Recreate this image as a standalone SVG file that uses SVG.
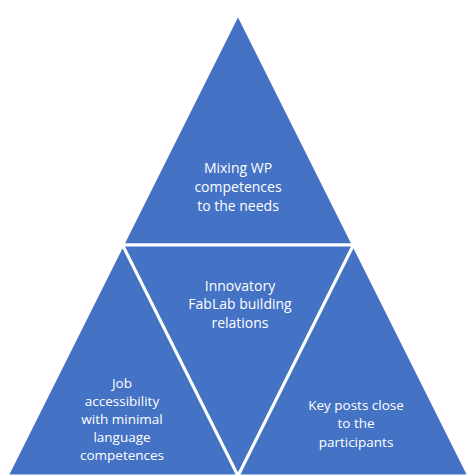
<svg xmlns="http://www.w3.org/2000/svg" width="468" height="476" viewBox="0 0 468 476">
<style>
.tri{fill:#4472C4;stroke:#FFFFFF;stroke-width:3;stroke-linejoin:miter}
.lbl{font-family:"Open Sans","Noto Sans",sans-serif;font-size:14px;fill:#FFFFFF;text-anchor:middle;dominant-baseline:central}
.sm{font-size:13.5px}
</style>
<rect width="468" height="476" fill="#FFFFFF"/>
<g id="top">
<polygon class="tri" points="238,14 122.5,245 353.5,245"/>
<text class="lbl" x="238" y="167">Mixing WP</text>
<text class="lbl" x="238" y="186">competences</text>
<text class="lbl" x="238" y="205">to the needs</text>
</g>
<g id="center">
<polygon class="tri" points="122.5,245 353.5,245 238,476"/>
<text class="lbl" x="240" y="285">Innovatory</text>
<text class="lbl" x="240" y="303.5">FabLab building</text>
<text class="lbl" x="240" y="322">relations</text>
</g>
<g id="left">
<polygon class="tri" points="122.5,245 7,476 238,476"/>
<text class="lbl sm" x="122" y="383">Job</text>
<text class="lbl sm" x="122" y="401">accessibility</text>
<text class="lbl sm" x="122" y="419">with minimal</text>
<text class="lbl sm" x="122" y="437">language</text>
<text class="lbl sm" x="122" y="455">competences</text>
</g>
<g id="right">
<polygon class="tri" points="353.5,245 238,476 469,476"/>
<text class="lbl sm" x="356" y="405">Key posts close</text>
<text class="lbl sm" x="356" y="423">to the</text>
<text class="lbl sm" x="356" y="442">participants</text>
</g>
<g id="connectors"></g>
</svg>
